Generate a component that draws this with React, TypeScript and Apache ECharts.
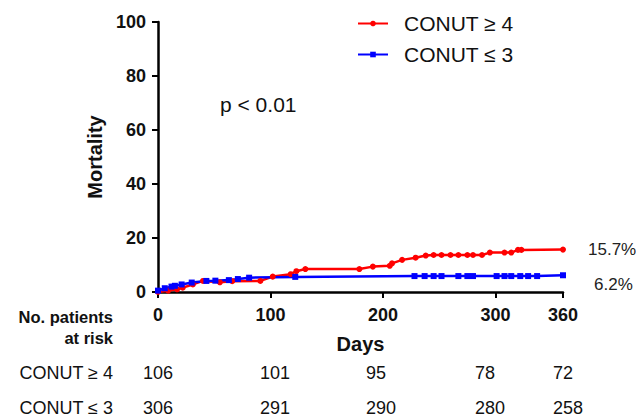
import React, { useEffect, useRef } from "react";
import * as echarts from "echarts";

const xTicks = [0, 100, 200, 300, 360];
const redName = "CONUT ≥ 4";
const blueName = "CONUT ≤ 3";

const redData: [number, number][] = [
  [0, 0], [9, 0.5], [17, 1.0], [22, 1.6], [31, 2.8], [40, 4.1], [55, 3.6], [66, 4.0],
  [91, 4.1], [102, 5.7], [118, 6.6], [123, 7.7], [131, 8.5], [179, 8.5], [191, 9.4],
  [206, 9.7], [208, 10.6], [217, 11.9], [229, 12.7], [238, 13.5], [245, 13.7], [252, 13.7],
  [260, 13.7], [267, 13.7], [275, 13.7], [280, 13.7], [288, 13.7], [295, 14.6], [308, 14.6],
  [314, 14.6], [320, 15.6], [323, 15.6], [360, 15.7],
];

const blueData: [number, number][] = [
  [0, 0.5], [6, 1.4], [12, 2.0], [15, 2.3], [21, 2.8], [30, 3.5], [43, 4.1], [51, 4.2],
  [63, 4.4], [71, 4.8], [81, 5.3], [122, 5.6], [228, 5.9], [237, 5.9], [245, 5.9],
  [252, 5.9], [267, 5.9], [275, 5.9], [280, 5.9], [301, 5.9], [308, 5.9], [314, 5.9],
  [322, 5.9], [329, 5.9], [337, 5.9], [360, 6.2],
];

const riskRed = [106, 101, 95, 78, 72];
const riskBlue = [306, 291, 290, 280, 258];

// layout (pixel) constants for the at-risk table columns (left edges)
const riskLeft = [143, 260, 366, 475, 553];

const FONT = "'Liberation Sans', Arial, sans-serif";

function withEndLabel(data: [number, number][], text: string, offsetY: number, dist: number) {
  return data.map((d, i) =>
    i === data.length - 1
      ? {
          value: d,
          label: {
            show: true,
            position: "right",
            distance: dist,
            offset: [0, offsetY],
            formatter: text,
            fontFamily: FONT,
            fontSize: 17,
            color: "#222",
          },
        }
      : { value: d }
  );
}

export default function App() {
  const ref = useRef<HTMLDivElement>(null);
  useEffect(() => {
    if (!ref.current) return;
    const chart = echarts.init(ref.current, undefined, { renderer: "svg" });
    const option: any = {
      animation: false,
      backgroundColor: "#fff",
      grid: { left: 158, top: 22, width: 405, height: 270, containLabel: false },
      legend: {
        orient: "vertical",
        left: 357,
        top: 13,
        padding: 0,
        itemWidth: 30,
        itemHeight: 7,
        itemGap: 10,
        data: [redName, blueName],
        textStyle: { fontFamily: FONT, fontSize: 21, color: "#111", padding: [0, 0, 0, 11] },
      },
      xAxis: {
        type: "value",
        min: 0,
        max: 360,
        name: "Days",
        nameLocation: "middle",
        nameGap: 42,
        nameTextStyle: { fontFamily: FONT, fontSize: 20, fontWeight: "bold", color: "#111" },
        axisLine: { show: true, lineStyle: { color: "#000", width: 2.5 } },
        axisTick: { show: true, inside: false, length: 6, lineStyle: { color: "#000", width: 2 }, customValues: xTicks },
        axisLabel: { margin: 14, fontFamily: FONT, fontSize: 18, fontWeight: "bold", color: "#111", customValues: xTicks },
        splitLine: { show: false },
      },
      yAxis: {
        type: "value",
        min: 0,
        max: 100,
        interval: 20,
        name: "Mortality",
        nameLocation: "middle",
        nameGap: 53,
        nameTextStyle: { fontFamily: FONT, fontSize: 20, fontWeight: "bold", color: "#111" },
        axisLine: { show: true, lineStyle: { color: "#000", width: 2.5 } },
        axisTick: { show: true, inside: false, length: 6, lineStyle: { color: "#000", width: 2 } },
        axisLabel: { margin: 12, fontFamily: FONT, fontSize: 18, fontWeight: "bold", color: "#111" },
        splitLine: { show: false },
      },
      series: [
        {
          name: redName,
          type: "line",
          data: withEndLabel(redData, "15.7%", 0, 22),
          color: "#ff0000",
          symbol: "circle",
          symbolSize: 6,
          showAllSymbol: true,
          lineStyle: { width: 2.5, color: "#ff0000" },
          itemStyle: { color: "#ff0000" },
          clip: false,
        },
        {
          name: blueName,
          type: "line",
          data: withEndLabel(blueData, "6.2%", 9, 28),
          color: "#0000ff",
          symbol: "rect",
          symbolSize: 6,
          showAllSymbol: true,
          lineStyle: { width: 2.5, color: "#0000ff" },
          itemStyle: { color: "#0000ff" },
          clip: false,
        },
      ],
    };
    chart.setOption(option);

    const txt = (t: string, x: number, y: number, extra: any = {}) => ({
      type: "text",
      x,
      y,
      style: {
        text: t,
        fontFamily: FONT,
        fontSize: 18,
        fill: "#111",
        textAlign: "left",
        textVerticalAlign: "middle",
        ...extra,
      },
    });
    const graphics: any[] = [
      txt("p < 0.01", 220, 104, { fontSize: 21 }),
      txt("No. patients", 113, 317, { fontWeight: "bold", fontSize: 16.5, textAlign: "right" }),
      txt("at risk", 113, 338, { fontWeight: "bold", fontSize: 16.5, textAlign: "right" }),
      txt(redName, 113, 373, { textAlign: "right" }),
      txt(blueName, 113, 408, { textAlign: "right" }),
    ];
    riskLeft.forEach((x, i) => {
      graphics.push(txt(String(riskRed[i]), x, 373));
      graphics.push(txt(String(riskBlue[i]), x, 408));
    });
    chart.setOption({ graphic: graphics });

    return () => chart.dispose();
  }, []);
  return (
    <div
      ref={ref}
      style={{ position: "fixed", left: 0, top: 0, width: 636, height: 419, background: "#fff" }}
    />
  );
}
